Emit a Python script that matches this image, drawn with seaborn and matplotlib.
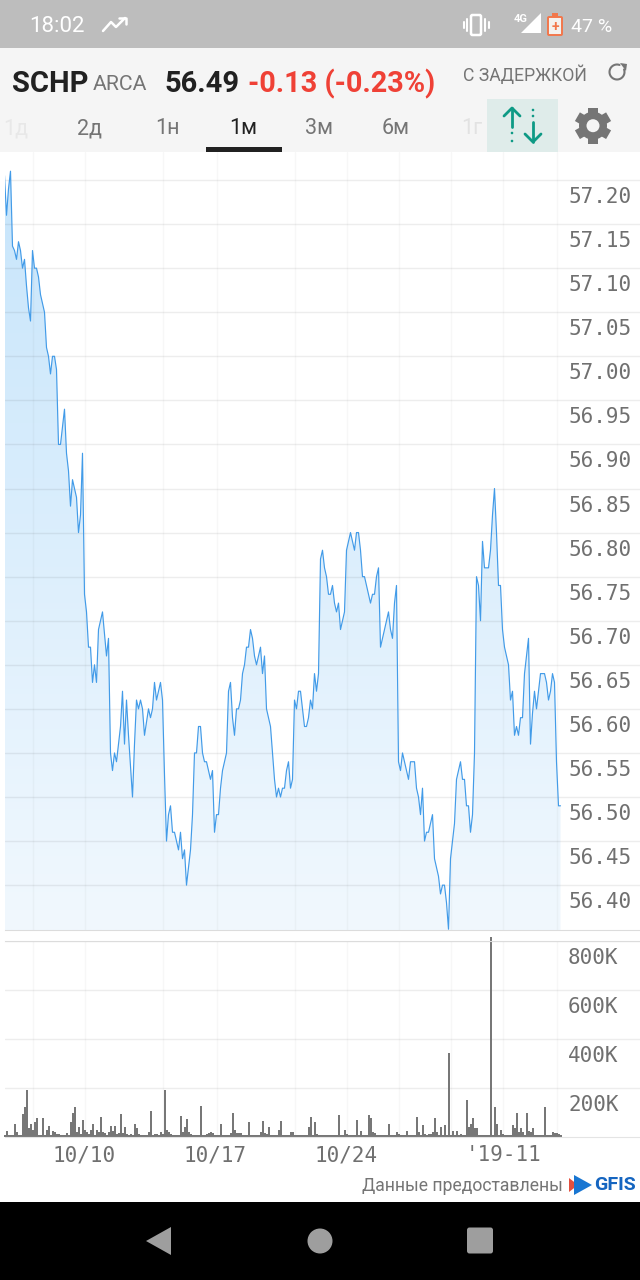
import numpy as np
import pandas as pd
import matplotlib
matplotlib.use("Agg")
import matplotlib.pyplot as plt
import matplotlib.patches as mp
from matplotlib.transforms import ScaledTranslation
import seaborn as sns

# ---------- data ----------
price = [
 57.205,57.16,57.19,57.21,57.125,57.12,57.11,57.13,57.12,57.10,
 57.11,57.08,57.055,57.04,57.12,57.10,57.10,57.09,57.07,57.06,
 57.05,57.01,57.00,56.98,57.00,57.00,56.985,56.90,56.90,56.92,
 56.94,56.89,56.87,56.83,56.86,56.85,56.84,56.80,56.82,56.89,
 56.73,56.71,56.67,56.67,56.63,56.65,56.63,56.69,56.70,56.71,
 56.685,56.66,56.68,56.55,56.53,56.55,56.54,56.56,56.58,56.62,
 56.56,56.61,56.57,56.535,56.50,56.56,56.61,56.60,56.61,56.60,
 56.57,56.585,56.60,56.59,56.60,56.63,56.61,56.62,56.63,56.61,
 56.525,56.45,56.48,56.49,56.46,56.46,56.45,56.44,56.46,56.43,
 56.44,56.40,56.42,56.44,56.48,56.55,56.55,56.58,56.58,56.55,
 56.54,56.54,56.53,56.52,56.53,56.46,56.48,56.48,56.51,56.53,
 56.54,56.55,56.62,56.63,56.59,56.57,56.60,56.60,56.61,56.64,
 56.65,56.67,56.67,56.69,56.68,56.66,56.65,56.66,56.67,56.64,
 56.66,56.60,56.59,56.58,56.55,56.52,56.50,56.51,56.50,56.51,
 56.51,56.53,56.54,56.51,56.52,56.61,56.60,56.62,56.62,56.60,
 56.58,56.58,56.59,56.61,56.60,56.64,56.62,56.64,56.77,56.78,
 56.76,56.75,56.73,56.73,56.74,56.72,56.71,56.72,56.69,56.70,
 56.71,56.78,56.79,56.80,56.79,56.78,56.80,56.80,56.78,56.75,
 56.75,56.74,56.73,56.72,56.73,56.73,56.75,56.76,56.67,56.68,
 56.69,56.70,56.71,56.69,56.68,56.72,56.74,56.54,56.53,56.55,
 56.54,56.53,56.52,56.54,56.54,56.54,56.51,56.50,56.48,56.51,
 56.45,56.46,56.46,56.47,56.48,56.43,56.42,56.41,56.39,56.40,
 56.40,56.38,56.35,56.43,56.45,56.47,56.52,56.53,56.54,56.52,
 56.52,56.49,56.49,56.46,56.48,56.55,56.75,56.74,56.70,56.79,
 56.76,56.76,56.76,56.78,56.82,56.85,56.80,56.74,56.74,56.69,
 56.67,56.66,56.65,56.61,56.62,56.57,56.58,56.57,56.59,56.59,
 56.64,56.66,56.68,56.56,56.595,56.62,56.60,56.62,56.64,56.64,
 56.64,56.63,56.61,56.62,56.64,56.63,56.54,56.49,56.49,
]
volume_k = [
 8,25,8,7,8,55,20,8,9,94,
 124,190,35,55,30,62,76,8,7,76,
 8,28,44,9,25,21,14,11,8,8,
 8,17,8,62,99,121,21,41,11,69,
 28,21,14,28,52,8,28,21,80,21,
 17,9,21,44,25,44,14,17,94,17,
 41,11,8,11,7,52,35,11,7,7,
 7,7,21,105,8,14,11,7,21,14,
 190,28,21,11,8,8,7,7,85,21,
 41,72,21,11,7,7,7,8,125,8,
 8,14,17,19,17,8,7,8,55,8,
 8,7,8,17,99,28,17,17,17,8,
 7,7,62,7,7,8,8,8,21,66,
 17,11,39,8,7,7,7,30,66,8,
 8,7,7,21,21,8,8,8,7,7,
 8,8,41,83,8,62,14,8,8,8,
 7,7,7,8,8,8,7,90,8,7,
 30,14,8,7,7,8,69,8,25,8,
 7,8,90,76,21,17,8,7,8,8,
 8,7,55,8,7,8,21,14,8,8,
 7,25,8,8,8,7,83,21,8,48,
 14,8,14,14,21,76,21,8,41,8,
 48,8,342,8,25,8,25,8,11,8,
 8,150,41,55,76,35,35,8,7,7,
 7,7,7,816,8,124,52,8,28,11,
 8,8,7,8,48,35,97,21,35,21,
 8,97,25,21,35,8,7,8,8,8,
 121,8,8,8,21,17,17,11,7,
]
sample = list(range(len(price)))
price_ticks = [56.40,56.45,56.50,56.55,56.60,56.65,56.70,56.75,56.80,56.85,56.90,56.95,57.00,57.05,57.10,57.15,57.20]
price_labels = ["56.40","56.45","56.50","56.55","56.60","56.65","56.70","56.75","56.80","56.85","56.90","56.95","57.00","57.05","57.10","57.15","57.20"]
volume_ticks = [200,400,600,800]
volume_labels = ["200K","400K","600K","800K"]
grid_samples = [14,40,79,106,145,171,197,223,249,276]
date_samples = [40,105.5,171,249.5]
date_labels = ["10/10","10/17","10/24","'19-11"]

df = pd.DataFrame({"sample":sample,"price":price,"volume":volume_k})

# ---------- setup ----------
sns.set_theme(style="white")
plt.rcParams["font.family"] = ["Roboto","DejaVu Sans"]
W,H = 640,1280
fig = plt.figure(figsize=(6.4,12.8),dpi=100,facecolor="white")

def box(top,bottom,left=0,right=640):
    return [left/W,1-bottom/H,(right-left)/W,(bottom-top)/H]

XMIN,XMAX = 0.25,317.75
MONO = "DejaVu Sans Mono"
LBL = "#707070"
shift = ScaledTranslation(0,-15/100,fig.dpi_scale_trans)

# price panel
ax = fig.add_axes(box(152,930,5,640))
ax.patch.set_alpha(0)
ylo,yhi = 56.5+(797-930)/881.4, 56.5+(797-152)/881.4
sns.lineplot(data=df,x="sample",y="price",ax=ax,color="#429be8",lw=0.85,zorder=3,errorbar=None)
poly = ax.fill_between(sample,price,ylo,color="none")
grad = np.zeros((256,1,4))
t = np.linspace(0,1,256)[:,None]
top,bot = np.array([199,229,251]),np.array([241,248,254])
grad[...,:3] = (top*(1-t)+bot*t)[:,None,:].reshape(256,1,3)/255
grad[...,3] = 1
im = ax.imshow(grad,extent=[XMIN,278,ylo,yhi-0.02],aspect="auto",zorder=1,origin="upper")
im.set_clip_path(poly.get_paths()[0],transform=ax.transData)
poly.set_visible(False)
ax.set_xlim(XMIN,XMAX); ax.set_ylim(ylo,yhi)
ax.set_xticks(grid_samples); ax.set_xticklabels([])
ax.set_yticks(price_ticks,labels=price_labels)
ax.yaxis.tick_right()
ax.set_axisbelow("line")
ax.grid(True,axis="y",color="k",alpha=0.075,lw=1.0)
ax.grid(True,axis="x",color="k",alpha=0.03,lw=1.0)
ax.tick_params(axis="y",length=0,pad=-(640-568)*0.72,labelsize=15,labelcolor=LBL)
ax.tick_params(axis="x",length=0)
for l in ax.get_yticklabels():
    l.set_fontfamily(MONO); l.set_transform(l.get_transform()+shift)
ax.set_xlabel(""); ax.set_ylabel("")
for s in ["top","left","right"]: ax.spines[s].set_visible(False)
ax.spines["bottom"].set_color("#dcdcdc"); ax.spines["bottom"].set_linewidth(0.8)

# volume panel
av = fig.add_axes(box(941,1137,5,640))
av.patch.set_alpha(0)
sns.barplot(data=df,x="sample",y="volume",ax=av,native_scale=True,color="#777777",
            width=1.0,saturation=1,linewidth=0,errorbar=None)
for p in av.patches: p.set_clip_on(False)
av.set_xlim(XMIN,XMAX); av.set_ylim(0,800)
av.set_xticks(grid_samples)
av.set_yticks(volume_ticks,labels=volume_labels)
av.yaxis.tick_right()
av.set_axisbelow(True)
av.grid(True,axis="y",color="k",alpha=0.075,lw=1.0)
av.grid(True,axis="x",color="k",alpha=0.03,lw=1.0)
av.set_xticklabels([])
av.tick_params(axis="both",length=0)
av.tick_params(axis="y",pad=-(640-568)*0.72,labelsize=15,labelcolor=LBL)
for l in av.get_yticklabels():
    l.set_fontfamily(MONO); l.set_transform(l.get_transform()+shift)
av.set_xlabel(""); av.set_ylabel("")
for s in ["left","right"]: av.spines[s].set_visible(False)
av.spines["top"].set_color("#dcdcdc"); av.spines["top"].set_linewidth(0.8)
av.spines["bottom"].set_color("#e4e4e4"); av.spines["bottom"].set_linewidth(0.8)

# date labels on a secondary x-axis of the volume panel
tw = av.secondary_xaxis("bottom")
tw.set_xticks(date_samples,labels=date_labels)
tw.tick_params(length=0,pad=6,labelsize=15,labelcolor=LBL)
for l in tw.get_xticklabels(): l.set_fontfamily(MONO)
tw.spines["bottom"].set_visible(False)

# ---------- app chrome ----------
ov = fig.add_axes([0,0,1,1],zorder=10)
ov.set_xlim(0,W); ov.set_ylim(H,0); ov.axis("off"); ov.patch.set_alpha(0)
def rect(x0,y0,x1,y1,c,**k):
    ov.add_patch(mp.Rectangle((x0,y0),x1-x0,y1-y0,fc=c,ec="none",**k))
def txt(x,y,s,size,c,ha="left",weight="normal",**k):
    ov.text(x,y,s,fontsize=size,color=c,ha=ha,va="center",fontweight=weight,**k)

rect(0,0,640,48,"#bdbdbd")
rect(0,48,640,152,"#f5f5f5")
rect(0,1202,640,1280,"#000000")
rect(487,99,558,152,"#dfecea")
rect(206,147,282,152,"#212121")

txt(29,27,"18:02",16,"white")
ov.plot([103,111,116,125],[31,22,27,18],color="white",lw=1.8)
ov.plot([119,125.5,125.5],[18,18,24],color="white",lw=1.8)
ov.add_patch(mp.FancyBboxPatch((471,15),10,20,boxstyle="round,pad=0,rounding_size=1.5",fc="none",ec="white",lw=1.8))
for x,y0,y1 in [(467,19,31),(485,19,31),(463.5,22,28),(488.5,22,28)]:
    ov.plot([x,x],[y0,y1],color="white",lw=1.5)
ov.add_patch(mp.Polygon([(541,13),(541,33),(521,33)],fc="white",ec="none"))
txt(513.5,18.5,"4G",8,"white",weight="bold")
ov.add_patch(mp.FancyBboxPatch((548,17),14,18,boxstyle="round,pad=0,rounding_size=1",fc="#f4f1ee",ec="#f2774b",lw=1.4))
rect(552,13,558,17,"#f2774b")
txt(555,26.5,"+",10,"#f2774b",ha="center",weight="bold")
txt(571,27,"47 %",14,"white")

txt(12,84,"SCHP",21,"#212121",weight="bold")
txt(93,85,"ARCA",15.3,"#757575")
txt(165,84,"56.49",21,"#212121",weight="bold")
txt(248,84,"-0.13 (-0.23%)",20.8,"#ef4136",weight="bold")
txt(463,75,"С ЗАДЕРЖКОЙ",12.7,"#757575")
th = np.radians(np.linspace(-20,290,40))
ov.plot(617+7.5*np.cos(th),72+7.5*np.sin(th),color="#757575",lw=1.5)
ov.add_patch(mp.Polygon([(620,63),(627,64),(626,71)],fc="#757575",ec="none"))

tab_x = [16,90,167,243,319,396,472]
tab_text = ["1д","2д","1н","1м","3м","6м","1г"]
tab_col = ["#e8e8e8","#757575","#757575","#212121","#757575","#757575","#e2e2e2"]
for x,s,c in zip(tab_x,tab_text,tab_col):
    txt(x,129,s,15.5,c,ha="center")

teal="#0e9a85"
ov.plot([512,512],[108,127],color=teal,lw=2.0)
ov.plot([504,512,520],[116,108,116],color=teal,lw=2.0)
ov.plot([533,533],[122,142],color=teal,lw=2.0)
ov.plot([525,533,541],[134,142,134],color=teal,lw=2.0)
for (x,y) in [(512,133),(512,141),(533,110),(533,116)]:
    ov.add_patch(mp.Circle((x,y),1.3,fc=teal,ec="none"))
# gear
for a in [0,60,120]:
    ov.add_patch(mp.Rectangle((593-5,125.7-18),10,36,angle=a,rotation_point=(593,125.7),fc="#757575",ec="none"))
ov.add_patch(mp.Circle((593,125.7),14,fc="#757575",ec="none"))
ov.add_patch(mp.Circle((593,125.7),6.5,fc="#f5f5f5",ec="none"))

# attribution
txt(362,1186,"Данные предоставлены",12.7,"#757575")
ov.add_patch(mp.Polygon([(569,1178),(569,1192),(578,1185)],fc="#e2503f",ec="none"))
ov.add_patch(mp.Polygon([(574,1175),(592,1185),(574,1195)],fc="#1976d2",ec="none"))
txt(594,1185,"GFIS",14,"#1565c0",weight="bold")

# nav
nav="#9e9e9e"
ov.add_patch(mp.Polygon([(171,1227),(171,1255),(146,1241)],fc=nav,ec="none"))
ov.add_patch(mp.Circle((320,1241),12.5,fc=nav,ec="none"))
ov.add_patch(mp.FancyBboxPatch((467,1227.5),26,26,boxstyle="round,pad=0,rounding_size=2.5",fc=nav,ec="none"))

fig.savefig("out.png",dpi=100)
